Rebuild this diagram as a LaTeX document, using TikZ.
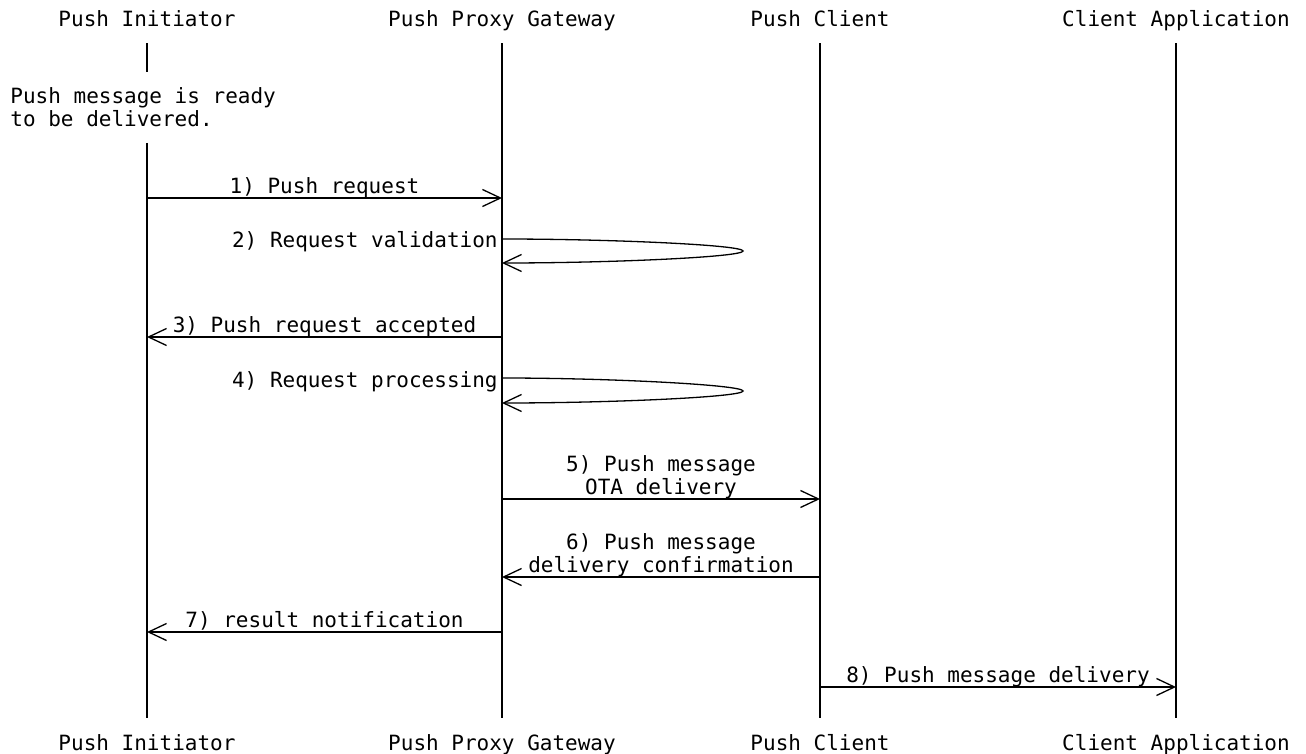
\documentclass[tikz,border=0pt]{standalone}
\usepackage{fontspec}
\setmonofont{DejaVu Sans Mono}
\usetikzlibrary{arrows.meta}

\newcommand\seqfont{\ttfamily\fontsize{10.5}{11.3}\selectfont}

\tikzset{
  actor/.style     = {font=\seqfont, inner sep=0pt, anchor=base,
                      text height=8pt, text depth=2.5pt},
  note/.style      = {font=\seqfont, align=left, anchor=south west,
                      inner xsep=0pt, inner ysep=8pt, text depth=0pt},
  msglabel/.style  = {font=\seqfont, align=center, inner sep=0pt,
                      text depth=0pt, above=2pt},
  selflabel/.style = {font=\seqfont, inner sep=0pt, anchor=base east},
  lifeline/.style  = {draw, line width=0.65pt, shorten <=5.5pt, shorten >=8pt},
  msg/.style       = {draw, line width=0.65pt,
                      -{Straight Barb[length=9pt,width=8.5pt]}}
}

\begin{document}
\begin{tikzpicture}[x=0.5pt, y=-0.5pt]
\useasboundingbox (0,0) rectangle (1306,754);

% participants, top and bottom
\node[actor] (pi)   at (147,27)  {Push Initiator};
\node[actor] (ppg)  at (502,27)  {Push Proxy Gateway};
\node[actor] (pc)   at (820,27)  {Push Client};
\node[actor] (ca)   at (1176,27) {Client Application};
\node[actor] (pib)  at (147,750)  {Push Initiator};
\node[actor] (ppgb) at (502,750)  {Push Proxy Gateway};
\node[actor] (pcb)  at (820,750)  {Push Client};
\node[actor] (cab)  at (1176,750) {Client Application};

\node[note] (ready) at (10,143) {Push message is ready\\to be delivered.};

% lifelines
\draw[lifeline, shorten >=0pt] (pi) -- (pi |- ready.north);
\draw[lifeline, shorten <=0pt] (pi |- ready.south) -- (pib);
\draw[lifeline] (ppg) -- (ppgb);
\draw[lifeline] (pc) -- (pcb);
\draw[lifeline] (ca) -- (cab);

% message rows
\coordinate (t1) at (0,198);
\coordinate (t2) at (0,239);
\coordinate (v2) at (743,251);
\coordinate (b2) at (0,263);
\coordinate (t3) at (0,337);
\coordinate (t4) at (0,378);
\coordinate (v4) at (743,391);
\coordinate (b4) at (0,403);
\coordinate (t5) at (0,499);
\coordinate (t6) at (0,577);
\coordinate (t7) at (0,632);
\coordinate (t8) at (0,687);

\draw[msg] (pi |- t1) -- (ppg |- t1)
  node[msglabel, midway] {1) Push request};

\draw[msg] (ppg |- t2) .. controls +(110,0) and +(0,-6) .. (v2)
  .. controls +(0,6) and +(110,0) .. (ppg |- b2);
\node[selflabel] (lbl2) at (498,248) {2) Request validation};

\draw[msg] (ppg |- t3) -- (pi |- t3)
  node[msglabel, midway] {3) Push request accepted};

\draw[msg] (ppg |- t4) .. controls +(110,0) and +(0,-6) .. (v4)
  .. controls +(0,6) and +(110,0) .. (ppg |- b4);
\node[selflabel] (lbl4) at (498,387) {4) Request processing};

\draw[msg] (ppg |- t5) -- (pc |- t5)
  node[msglabel, midway] {5) Push message\\OTA delivery};

\draw[msg] (pc |- t6) -- (ppg |- t6)
  node[msglabel, midway] {6) Push message\\delivery confirmation};

\draw[msg] (ppg |- t7) -- (pi |- t7)
  node[msglabel, midway] {7) result notification};

\draw[msg] (pc |- t8) -- (ca |- t8)
  node[msglabel, midway] {8) Push message delivery};
\end{tikzpicture}
\end{document}
